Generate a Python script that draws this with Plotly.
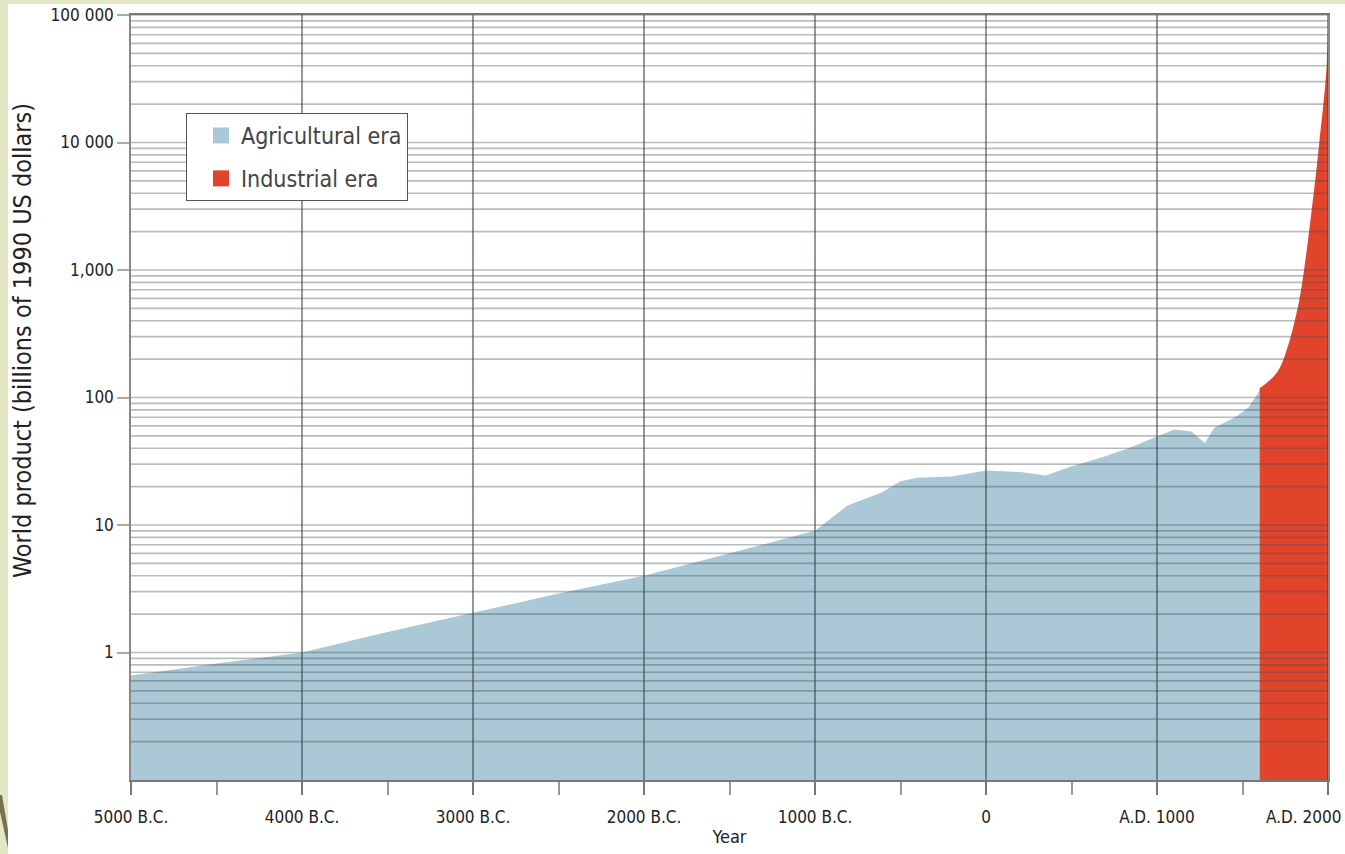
import plotly.graph_objects as go

# ---------------- data ----------------
agri_years = [-5000, -4500, -4000, -3500, -3000, -2500, -2000, -1500, -1000,
              -810, -610, -500, -400, -200, 0, 200, 350, 480, 675, 830,
              985, 1100, 1200, 1280, 1335, 1455, 1535, 1600]
agri_values = [0.66, 0.82, 1.0, 1.45, 2.05, 2.9, 4.0, 6.0, 9.0,
               14.2, 18.0, 22.0, 23.5, 24.0, 26.8, 26.0, 24.4, 28.2, 33.8, 39.8,
               48.6, 56.0, 54.0, 44.0, 58.0, 69.7, 83.5, 113.0]

ind_years = [1600, 1690, 1730, 1760, 1790, 1830, 1860, 1887, 1910, 1934, 1955, 1975, 1990, 2000]
ind_values = [118, 150, 185, 240, 330, 560, 1000, 1900, 3400, 6400, 12000, 21300, 36000, 75000]

x_tickvals = [-5000, -4000, -3000, -2000, -1000, 0, 1000, 2000]
x_ticktext = ["5000 B.C.", "4000 B.C.", "3000 B.C.", "2000 B.C.", "1000 B.C.",
              "0", "A.D. 1000", "A.D. 2000"]
y_tickvals = [1, 10, 100, 1000, 10000, 100000]
y_ticktext = ["1", "10", "100", "1,000", "10 000", "100 000"]

series_names = ["Agricultural era", "Industrial era"]
AGRI_COLOR = "#aac8d5"
IND_COLOR = "#e2442b"

Y_MIN = 0.1
FONT = "Liberation Sans Narrow, DejaVu Sans Condensed, Roboto Condensed, Arial Narrow, sans-serif"

# plot-area geometry in pixels (for paper-coordinate decorations)
W, H = 1345, 854
ML, MR, MT, MB = 131, 17, 15, 74
PW, PH = W - ML - MR, H - MT - MB


def px_x(p):
    return (p - ML) / PW


def px_y(p):
    return 1 - (p - MT) / PH


fig = go.Figure()

# baseline + agricultural fill
fig.add_trace(go.Scatter(x=[agri_years[0], agri_years[-1]], y=[Y_MIN, Y_MIN],
                         mode="lines", line=dict(width=0), showlegend=False,
                         hoverinfo="skip"))
fig.add_trace(go.Scatter(x=agri_years, y=agri_values, mode="lines",
                         line=dict(width=0, color=AGRI_COLOR), fill="tonexty",
                         fillcolor=AGRI_COLOR, showlegend=False, name=series_names[0]))
# baseline + industrial fill
fig.add_trace(go.Scatter(x=[ind_years[0], ind_years[-1]], y=[Y_MIN, Y_MIN],
                         mode="lines", line=dict(width=0), showlegend=False,
                         hoverinfo="skip"))
fig.add_trace(go.Scatter(x=ind_years, y=ind_values, mode="lines", line_shape="spline",
                         line=dict(width=0, color=IND_COLOR), fill="tonexty",
                         fillcolor=IND_COLOR, showlegend=False, name=series_names[1]))

# horizontal grid lines drawn above the fills
x_lo, x_hi = x_tickvals[0], x_tickvals[-1]
gx, gy = [], []
for d in range(-1, 5):
    for k in range(1, 10):
        v = k * 10 ** d
        if v <= Y_MIN * 1.0001:
            continue
        gx += [x_lo, x_hi, None]
        gy += [v, v, None]
gx += [x_lo, x_hi, None]
gy += [1e5, 1e5, None]
fig.add_trace(go.Scatter(x=gx, y=gy, mode="lines",
                         line=dict(color="rgba(70,75,80,0.38)", width=1.7),
                         showlegend=False, hoverinfo="skip"))

# vertical grid lines
vx, vy = [], []
for t in x_tickvals[1:]:
    vx += [t, t, None]
    vy += [Y_MIN, 1e5, None]
fig.add_trace(go.Scatter(x=vx, y=vy, mode="lines",
                         line=dict(color="rgba(60,70,80,0.62)", width=1.8),
                         showlegend=False, hoverinfo="skip"))

# legend entries (square swatches)
for name, col in zip(series_names, [AGRI_COLOR, IND_COLOR]):
    fig.add_trace(go.Scatter(x=[None], y=[None], mode="markers", name=name,
                             legendgroup=name,
                             marker=dict(symbol="square", size=18, color=col)))

# last x tick label is placed as a right-aligned annotation so it stays inside the page
tick_labels_axis = x_ticktext[:-1] + [""]

fig.update_layout(
    width=W, height=H,
    margin=dict(l=ML, r=MR, t=MT, b=MB, pad=0, autoexpand=False),
    paper_bgcolor="#e3e7c6",
    plot_bgcolor="white",
    font=dict(family=FONT, color="#2a2a2a", size=17),
    showlegend=True,
    legend=dict(x=px_x(186), y=px_y(113), xanchor="left", yanchor="top",
                bgcolor="white", bordercolor="#555", borderwidth=1,
                font=dict(size=23, color="#444", family=FONT),
                tracegroupgap=10, indentation=14, itemsizing="trace"),
    xaxis=dict(range=[x_lo, x_hi], tickvals=x_tickvals, ticktext=tick_labels_axis,
               automargin=False, ticklabelstandoff=8,
               showgrid=False, zeroline=False, ticks="outside", ticklen=13,
               tickwidth=1.5, tickcolor="#777",
               minor=dict(dtick=500, ticks="outside", ticklen=13, tickwidth=1.5,
                          tickcolor="#999", showgrid=False),
               showline=True, linecolor="#777", linewidth=1.5, mirror=True,
               tickfont=dict(size=17, color="#222"),
               title=dict(text="Year", font=dict(size=18, color="#222"), standoff=4)),
    yaxis=dict(type="log", range=[-1, 5], tickvals=y_tickvals, ticktext=y_ticktext,
               automargin=False, ticklabeloverflow="allow",
               showgrid=False, zeroline=False, ticks="outside", ticklen=12,
               tickwidth=1.5, tickcolor="#aaa",
               showline=True, linecolor="#888", linewidth=1.5, mirror=True,
               tickfont=dict(size=17, color="#222")),
    shapes=[
        # white page area over the cream slide background
        dict(type="rect", xref="paper", yref="paper", layer="below",
             x0=px_x(8), x1=px_x(W + 5), y0=px_y(H + 5), y1=px_y(4),
             fillcolor="white", line=dict(width=0)),
        # brown decorative band at bottom-left
        dict(type="path", xref="paper", yref="paper", layer="above",
             path=f"M {px_x(0)} {px_y(795)} L {px_x(2)} {px_y(795)} L {px_x(8)} {px_y(830)} "
                  f"L {px_x(8)} {px_y(848)} L {px_x(0)} {px_y(812)} Z",
             fillcolor="#7b6f4f", line=dict(width=0)),
    ],
    annotations=[
        dict(text="World product (billions of 1990 US dollars)", xref="paper", yref="paper",
             x=px_x(22), y=px_y(341), textangle=-90, showarrow=False,
             font=dict(size=25, color="#222", family=FONT),
             xanchor="center", yanchor="middle"),
        dict(text=x_ticktext[-1], xref="paper", yref="paper",
             x=px_x(1343), y=px_y(817), showarrow=False,
             font=dict(size=17, color="#222", family=FONT),
             xanchor="right", yanchor="middle"),
    ],
)

fig.write_html("out.html")
